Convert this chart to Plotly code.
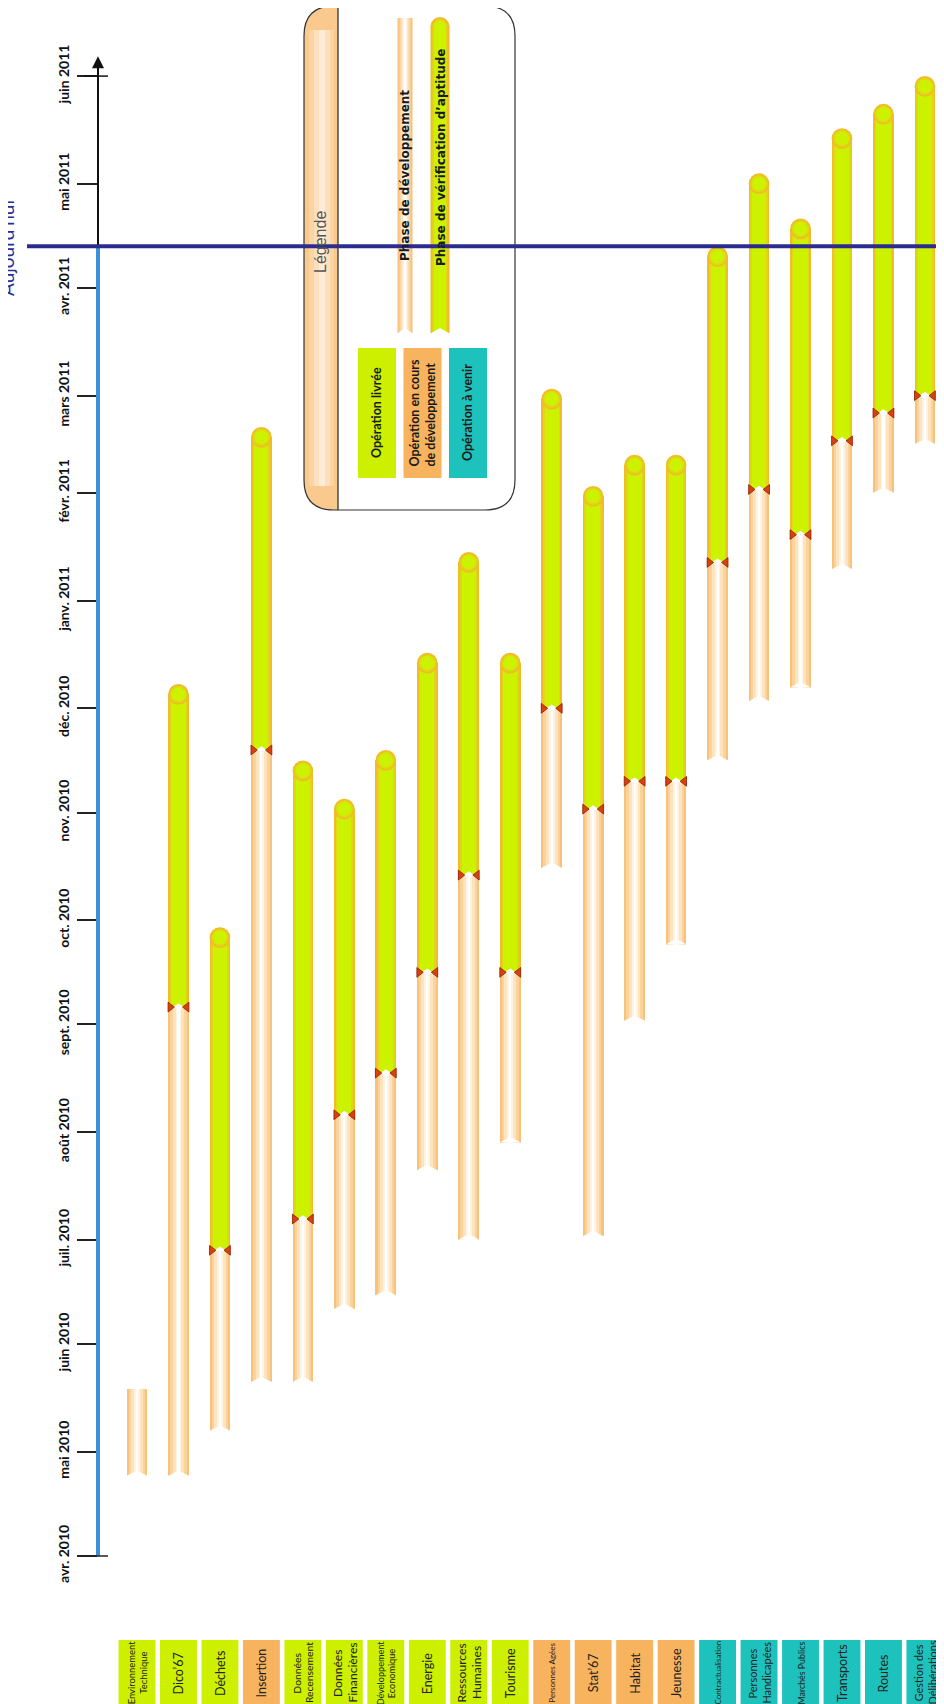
import plotly.graph_objects as go
import pandas as pd

# ---------------- data ----------------
categories = ["Environnement<br>Technique", "Dico’67", "Déchets", "Insertion",
              "Données<br>Recensement", "Données<br>Financières", "Développement<br>Economique",
              "Energie", "Ressources<br>Humaines", "Tourisme", "Personnes Agées", "Stat’67",
              "Habitat", "Jeunesse", "Contractualisation", "Personnes<br>Handicapées",
              "Marchés Publics", "Transports", "Routes", "Gestion des<br>Délibérations"]
status = ["livree", "livree", "livree", "en_cours", "livree", "livree", "livree", "livree",
          "livree", "livree", "en_cours", "en_cours", "en_cours", "en_cours",
          "a_venir", "a_venir", "a_venir", "a_venir", "a_venir", "a_venir"]
dev_start = ["2010-04-24", "2010-04-24", "2010-05-07", "2010-05-21", "2010-05-21", "2010-06-11",
             "2010-06-15", "2010-07-21", "2010-07-01", "2010-07-29", "2010-10-16", "2010-07-02",
             "2010-09-02", "2010-09-24", "2010-11-16", "2010-12-03", "2010-12-07", "2011-01-10",
             "2011-02-01", "2011-02-15"]
milestone = ["2010-05-19", "2010-09-06", "2010-06-28", "2010-11-19", "2010-07-07", "2010-08-06",
             "2010-08-18", "2010-09-16", "2010-10-14", "2010-09-16", "2010-12-01", "2010-11-02",
             "2010-11-10", "2010-11-10", "2011-01-12", "2011-02-02", "2011-01-20", "2011-02-16",
             "2011-02-24", "2011-03-01"]
verif_end = [None, "2010-12-08", "2010-09-29", "2011-02-20", "2010-11-16", "2010-11-05",
             "2010-11-19", "2010-12-17", "2011-01-15", "2010-12-17", "2011-03-03", "2011-02-03",
             "2011-02-12", "2011-02-12", "2011-04-13", "2011-05-04", "2011-04-21", "2011-05-17",
             "2011-05-24", "2011-06-01"]
tick_dates = ["2010-04-01", "2010-05-01", "2010-06-01", "2010-07-01", "2010-08-01", "2010-09-01",
              "2010-10-01", "2010-11-01", "2010-12-01", "2011-01-01", "2011-02-01", "2011-03-01",
              "2011-04-01", "2011-05-01", "2011-06-01"]
tick_labels = ["avr. 2010", "mai 2010", "juin 2010", "juil. 2010", "août 2010", "sept. 2010",
               "oct. 2010", "nov. 2010", "déc. 2010", "janv. 2011", "févr. 2011", "mars 2011",
               "avr. 2011", "mai 2011", "juin 2011"]
today = "2011-04-13"
status_colors = {"livree": "#ccf000", "en_cours": "#f8b35f", "a_venir": "#1ec2bd"}
legend_status = [("livree", "Opération livrée"),
                 ("en_cours", "Opération en cours<br>de développement"),
                 ("a_venir", "Opération à venir")]

# ---------------- geometry (layout, page pixels) ----------------
W, H = 944, 1704
OFF = 8                      # default body margin of the html page
AXIS_PX = 98                 # page x of the time axis
ML = AXIS_PX - OFF
PW = W - ML
slot = 41.47
first_px = 137
xr0 = -(first_px - AXIS_PX) / slot
xr1 = xr0 + PW / slot
px_per_day = 3.474
anchor = pd.Timestamp(tick_dates[0])
anchor_py = 1556 - OFF
y_bot = anchor - pd.Timedelta(days=(H - anchor_py) / px_per_day)
y_top = anchor + pd.Timedelta(days=anchor_py / px_per_day)


def PX(px):
    return (px - AXIS_PX) / PW


def PY(py):
    return 1 - (py - OFF) / H


def P(px, py):
    return f"{PX(px):.5f},{PY(py):.5f}"


n = len(categories)
xs = list(range(n))
ds = pd.to_datetime(dev_start)
ms = pd.to_datetime(milestone)
ve = pd.to_datetime(verif_end)
MS = pd.Timedelta(milliseconds=1)
BW = 0.5
cap = pd.Timedelta(days=BW * slot / 2 / px_per_day)

fig = go.Figure()

# development phase (pale cylinder)
dev_ms = [(m - s) / MS for s, m in zip(ds, ms)]
for w, c in [(0.5, "#f8c27a"), (0.40, "#fbd39a"), (0.28, "#fde4bf"), (0.14, "#fff4e4"), (0.05, "#ffffff")]:
    fig.add_trace(go.Bar(x=xs, y=dev_ms, base=dev_start, width=w, marker_color=c,
                         marker_line_width=0, hoverinfo="skip"))

# verification phase (green cylinder with rounded top)
vi = [i for i in xs if pd.notna(ve[i])]
ver_ms = [((ve[i] - cap) - ms[i]) / MS for i in vi]
ver_base = [milestone[i] for i in vi]
green_layers = [(0.5, "#f0bc28"), (0.42, "#e2d416"), (0.34, "#ccf200")]
for w, c in green_layers:
    fig.add_trace(go.Bar(x=vi, y=ver_ms, base=ver_base, width=w, marker_color=c,
                         marker_line_width=0, hoverinfo="skip"))
for w, c in green_layers:
    fig.add_trace(go.Scatter(x=vi, y=[ve[i] - cap for i in vi], mode="markers",
                             marker=dict(symbol="circle", size=w * slot, color=c, line_width=0),
                             hoverinfo="skip"))

# notches (white V cut at bottom of development bars, small arc at milestone)
nx, ny = [], []
for i in xs:
    nx += [i - 0.26, i + 0.26, i, i - 0.26, None]
    ny += [ds[i], ds[i], ds[i] + pd.Timedelta(days=1.6), ds[i], None]
for i in vi:
    nx += [i - 0.17, i + 0.17, i, i - 0.17, None]
    ny += [ms[i] - pd.Timedelta(days=0.3), ms[i] - pd.Timedelta(days=0.3),
           ms[i] + pd.Timedelta(days=1.1), ms[i] - pd.Timedelta(days=0.3), None]
fig.add_trace(go.Scatter(x=nx, y=ny, mode="lines", fill="toself", fillcolor="white",
                         line=dict(width=0, color="white"), hoverinfo="skip"))

# milestone triangles
for dx, sym in [(-0.2, "triangle-right"), (0.2, "triangle-left")]:
    fig.add_trace(go.Scatter(x=[i + dx for i in vi], y=[ms[i] for i in vi], mode="markers",
                             marker=dict(symbol=sym, size=8.5, color="#d8400f",
                                         line=dict(width=0.8, color="#8c1c00")), hoverinfo="skip"))

shapes = []
annotations = []

# approximate narrow-font widths (em) for fitting the labels in their boxes
_w = dict(a=.556, b=.556, c=.5, d=.556, e=.556, f=.278, g=.556, h=.556, i=.222, j=.222, k=.5,
          l=.222, m=.833, n=.556, o=.556, p=.556, q=.556, r=.333, s=.5, t=.278, u=.556, v=.5,
          w=.722, x=.5, y=.5, z=.5)
_w.update({"é": .556, "è": .556, "à": .556, " ": .278, "’": .222})


def text_em(s):
    return 0.9 * sum(_w.get(ch, .667 if ch.isupper() else .556) for ch in s)


def label_size(lines):
    longest = max(text_em(s) for s in lines)
    return min(12.5, 57 / longest)


# category boxes at the bottom
for i, (cat, st) in enumerate(zip(categories, status)):
    shapes.append(dict(type="rect", xref="x", yref="paper", x0=i - 0.445, x1=i + 0.445,
                       y0=-0.02, y1=PY(1640), fillcolor=status_colors[st], line_width=0,
                       layer="below"))
    lines = cat.split("<br>")
    size = label_size(lines)
    step = size * 1.2
    for k, line in enumerate(lines):
        shift = (k - (len(lines) - 1) / 2) * step
        annotations.append(dict(x=i, y=PY(1673), xref="x", yref="paper", text=line,
                                showarrow=False, xanchor="center", yanchor="middle",
                                xshift=shift, textangle=-90,
                                font=dict(family="Liberation Sans Narrow, Lato, sans-serif",
                                          size=size, color="#222")))

# time axis line (blue until today, black with arrow after)
shapes.append(dict(type="line", xref="paper", yref="y", x0=0, x1=0, y0=tick_dates[0], y1=today,
                   line=dict(color="#3d8fd8", width=4)))
shapes.append(dict(type="line", xref="paper", yref="y", x0=PX(84), x1=PX(108),
                   y0=tick_dates[0], y1=tick_dates[0], line=dict(color="#222", width=1.5)))
shapes.append(dict(type="line", xref="paper", yref="y", x0=PX(84), x1=PX(108),
                   y0=tick_dates[-1], y1=tick_dates[-1], line=dict(color="#111", width=1.5)))
annotations.append(dict(x=0, y=pd.Timestamp(today) + pd.Timedelta(days=(248 - 58) / px_per_day),
                        xref="paper", yref="y", text="", showarrow=True, ax=0, ay=(248 - 58),
                        arrowhead=2, arrowsize=1.2, arrowwidth=2, arrowcolor="#111", standoff=0))

# today line
shapes.append(dict(type="line", xref="paper", yref="y", x0=PX(27), x1=1, y0=today, y1=today,
                   line=dict(color="#2b2c8e", width=4)))
annotations.append(dict(x=PX(6), y=PY(248), xref="paper", yref="paper", text="Aujourd'hui",
                        showarrow=False, textangle=-90, xanchor="center", yanchor="middle",
                        font=dict(family="Lato, sans-serif", size=19, color="#2b2c9a")))

# legend box
L, R, T, B, r = 304, 515, 6, 510, 30
strip = 338
shapes.append(dict(type="path", xref="paper", yref="paper",
                   path=(f"M{P(strip, T)} L{P(L + r, T)} Q{P(L, T)} {P(L, T + r)} L{P(L, B - r)} "
                         f"Q{P(L, B)} {P(L + r, B)} L{P(strip, B)} Z"),
                   fillcolor="#f9c98e", line_width=0, layer="below"))
for x0, x1, c in [(L + 5, strip - 4, "#fbd4a4"), (L + 10, strip - 8, "#fcdfbc"),
                  (L + 15, strip - 13, "#feecd9")]:
    shapes.append(dict(type="rect", xref="paper", yref="paper", x0=PX(x0), x1=PX(x1),
                       y0=PY(B - r + 6), y1=PY(T + r - 6), fillcolor=c, line_width=0, layer="below"))
shapes.append(dict(type="path", xref="paper", yref="paper",
                   path=(f"M{P(L + r, T)} L{P(R - r, T)} Q{P(R, T)} {P(R, T + r)} L{P(R, B - r)} "
                         f"Q{P(R, B)} {P(R - r, B)} L{P(L + r, B)} Q{P(L, B)} {P(L, B - r)} "
                         f"L{P(L, T + r)} Q{P(L, T)} {P(L + r, T)} Z"),
                   line=dict(color="#333", width=1.2), layer="below"))
shapes.append(dict(type="line", xref="paper", yref="paper", x0=PX(strip), x1=PX(strip),
                   y0=PY(T), y1=PY(B), line=dict(color="#222", width=1.2), layer="below"))
annotations.append(dict(x=PX(320), y=PY(242), xref="paper", yref="paper", text="Légende",
                        showarrow=False, textangle=-90, xanchor="center", yanchor="middle",
                        font=dict(family="Liberation Sans, Arial, sans-serif", size=16, color="#555")))

# legend sample bars
for w, c in [(15, "#f8c27a"), (11, "#fbd6a2"), (7, "#fde8cc"), (3, "#ffffff")]:
    shapes.append(dict(type="rect", xref="paper", yref="paper", x0=PX(405 - w / 2), x1=PX(405 + w / 2),
                       y0=PY(333), y1=PY(18), fillcolor=c, line_width=0, layer="below"))
for w, c in [(19, "#f0bc28"), (15, "#e2d416"), (12, "#ccf200")]:
    shapes.append(dict(type="rect", xref="paper", yref="paper", x0=PX(440 - w / 2), x1=PX(440 + w / 2),
                       y0=PY(333), y1=PY(17 + 9.5), fillcolor=c, line_width=0, layer="below"))
    shapes.append(dict(type="circle", xref="paper", yref="paper", x0=PX(440 - w / 2), x1=PX(440 + w / 2),
                       y0=PY(17 + 9.5 + w / 2), y1=PY(17 + 9.5 - w / 2), fillcolor=c,
                       line_width=0, layer="below"))
for cx, w in [(405, 15), (440, 19)]:
    shapes.append(dict(type="path", xref="paper", yref="paper",
                       path=f"M{P(cx - w / 2 - 1, 334)} L{P(cx + w / 2 + 1, 334)} L{P(cx, 328)} Z",
                       fillcolor="white", line_width=0, layer="below"))
annotations.append(dict(x=PX(405), y=PY(176), xref="paper", yref="paper", text="<b>Phase de développement</b>",
                        showarrow=False, textangle=-90, xanchor="center", yanchor="middle",
                        font=dict(family="DejaVu Sans, sans-serif", size=12, color="#1a1a1a")))
annotations.append(dict(x=PX(441), y=PY(158), xref="paper", yref="paper",
                        text="<b>Phase de vérification d’aptitude</b>",
                        showarrow=False, textangle=-90, xanchor="center", yanchor="middle",
                        font=dict(family="DejaVu Sans, sans-serif", size=12, color="#1a1a1a")))

# legend status boxes
for k, (st, label) in enumerate(legend_status):
    bx0 = 358 + k * 45.5
    shapes.append(dict(type="rect", xref="paper", yref="paper", x0=PX(bx0), x1=PX(bx0 + 38),
                       y0=PY(478), y1=PY(348), fillcolor=status_colors[st], line_width=0, layer="below"))
    annotations.append(dict(x=PX(bx0 + 19), y=PY(413), xref="paper", yref="paper",
                            text=f"<b>{label}</b>", showarrow=False, textangle=-90, align="left",
                            xanchor="center", yanchor="middle",
                            font=dict(family="Lato, sans-serif", size=12.5, color="#1a1a1a")))

fig.update_layout(
    width=W, height=H, template="none",
    margin=dict(l=ML, r=0, t=0, b=0, autoexpand=False),
    barmode="overlay", bargap=0, showlegend=False,
    plot_bgcolor="white", paper_bgcolor="white",
    xaxis=dict(range=[xr0, xr1], visible=False, fixedrange=True),
    yaxis=dict(type="date", range=[y_bot, y_top], showgrid=False, zeroline=False, showline=False,
               tickmode="array", tickvals=tick_dates, ticktext=tick_labels,
               ticks="outside", ticklen=20, tickwidth=1.5, tickcolor="#222",
               tickangle=-90, automargin=False, ticklabelstandoff=2,
               tickfont=dict(family="Lato, sans-serif", size=14, weight="bold", color="#111")),
    shapes=shapes, annotations=annotations,
)

fig.write_html("out.html")
